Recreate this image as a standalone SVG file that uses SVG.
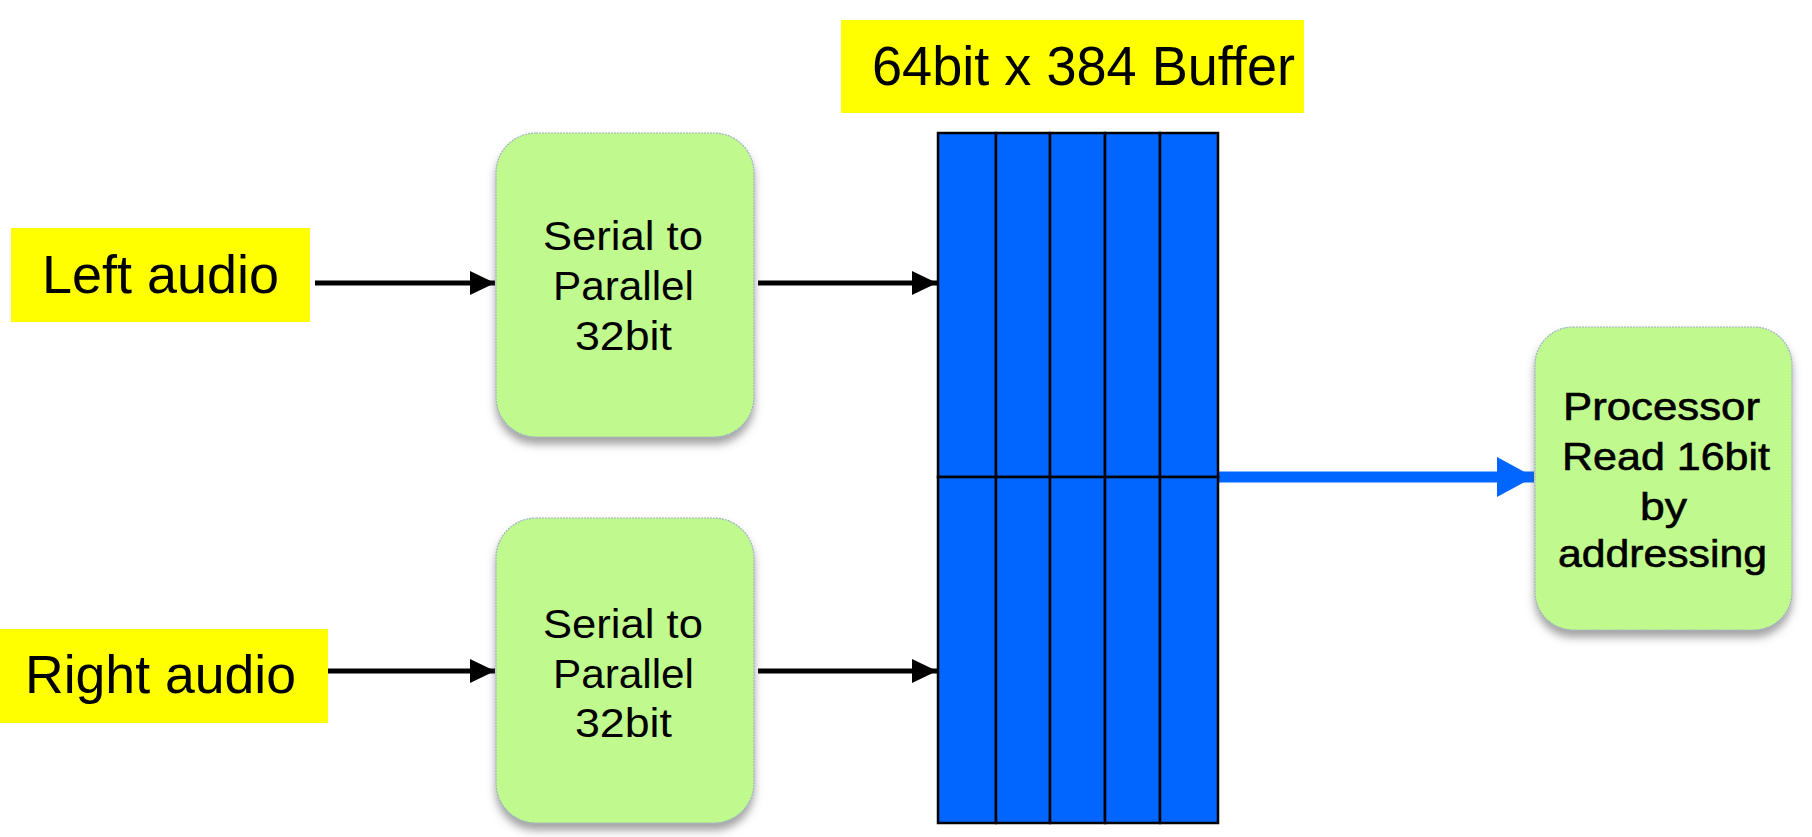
<svg xmlns="http://www.w3.org/2000/svg" width="1812" height="837" viewBox="0 0 1812 837">
<style>
.lbl{fill:#FFFF00}
.box{fill:#C0FA8E;stroke:#9fb0c0;stroke-width:1.2;stroke-dasharray:2 1}
.t{font-family:"Liberation Sans",Arial,sans-serif;fill:#000}
.tp{stroke:#000;stroke-width:0.6}
.cell{fill:#0066FF;stroke:#000;stroke-width:2.5}
.blk{stroke:#000;stroke-width:5;fill:none}
.blu{stroke:#0066FF;stroke-width:11;fill:none}
</style>
<defs>
<filter id="sh" x="-20%" y="-20%" width="140%" height="150%">
<feDropShadow dx="0" dy="7" stdDeviation="4" flood-color="#555" flood-opacity="0.55"/>
</filter>
<marker id="ab" markerUnits="userSpaceOnUse" markerWidth="26" markerHeight="24" refX="25" refY="12" orient="auto">
<path d="M0,0 L25,12 L0,24 Z" fill="#000"/>
</marker>
<marker id="au" markerUnits="userSpaceOnUse" markerWidth="38" markerHeight="40" refX="37" refY="20" orient="auto">
<path d="M0,0 L37,20 L0,40 Z" fill="#0066FF"/>
</marker>
</defs>
<rect width="1812" height="837" fill="#fff"/>

<g id="connectors">
<line class="blk" x1="315" y1="283" x2="495" y2="283" marker-end="url(#ab)"/>
<line class="blk" x1="328" y1="671" x2="495" y2="671" marker-end="url(#ab)"/>
<line class="blk" x1="758" y1="283" x2="937" y2="283" marker-end="url(#ab)"/>
<line class="blk" x1="758" y1="671" x2="937" y2="671" marker-end="url(#ab)"/>
<line class="blu" x1="1218" y1="477" x2="1534" y2="477" marker-end="url(#au)"/>
</g>

<g id="left-audio">
<rect class="lbl" x="11" y="228" width="299" height="94"/>
<text class="t" x="42" y="293" font-size="54" textLength="237" lengthAdjust="spacingAndGlyphs">Left audio</text>
</g>

<g id="right-audio">
<rect class="lbl" x="0" y="629" width="328" height="94"/>
<text class="t" x="25" y="693" font-size="54" textLength="271" lengthAdjust="spacingAndGlyphs">Right audio</text>
</g>

<g id="s2p-left">
<rect class="box" x="496" y="133" width="258" height="304" rx="40" filter="url(#sh)"/>
<text class="t" x="543" y="250" font-size="40" textLength="160" lengthAdjust="spacingAndGlyphs">Serial to</text>
<text class="t" x="553" y="300" font-size="40" textLength="141" lengthAdjust="spacingAndGlyphs">Parallel</text>
<text class="t" x="575" y="350" font-size="40" textLength="97" lengthAdjust="spacingAndGlyphs">32bit</text>
</g>

<g id="s2p-right">
<rect class="box" x="496" y="518" width="258" height="305" rx="40" filter="url(#sh)"/>
<text class="t" x="543" y="638" font-size="40" textLength="160" lengthAdjust="spacingAndGlyphs">Serial to</text>
<text class="t" x="553" y="688" font-size="40" textLength="141" lengthAdjust="spacingAndGlyphs">Parallel</text>
<text class="t" x="575" y="737" font-size="40" textLength="97" lengthAdjust="spacingAndGlyphs">32bit</text>
</g>

<g id="buffer-title">
<rect class="lbl" x="841" y="20" width="463" height="93"/>
<text class="t" x="872" y="85" font-size="55" textLength="423" lengthAdjust="spacingAndGlyphs">64bit x 384 Buffer</text>
</g>

<g id="buffer">
<rect class="cell" x="938" y="133" width="58" height="344"/>
<rect class="cell" x="996" y="133" width="54" height="344"/>
<rect class="cell" x="1050" y="133" width="55" height="344"/>
<rect class="cell" x="1105" y="133" width="55" height="344"/>
<rect class="cell" x="1160" y="133" width="58" height="344"/>
<rect class="cell" x="938" y="477" width="58" height="346"/>
<rect class="cell" x="996" y="477" width="54" height="346"/>
<rect class="cell" x="1050" y="477" width="55" height="346"/>
<rect class="cell" x="1105" y="477" width="55" height="346"/>
<rect class="cell" x="1160" y="477" width="58" height="346"/>
</g>

<g id="processor">
<rect class="box" x="1535" y="327" width="257" height="303" rx="38" filter="url(#sh)"/>
<text class="t tp" x="1563" y="420" font-size="38" textLength="197" lengthAdjust="spacingAndGlyphs">Processor</text>
<text class="t tp" x="1562" y="470" font-size="38" textLength="208" lengthAdjust="spacingAndGlyphs">Read 16bit</text>
<text class="t tp" x="1640" y="520" font-size="38" textLength="47" lengthAdjust="spacingAndGlyphs">by</text>
<text class="t tp" x="1558" y="567" font-size="38" textLength="209" lengthAdjust="spacingAndGlyphs">addressing</text>
</g>
</svg>
